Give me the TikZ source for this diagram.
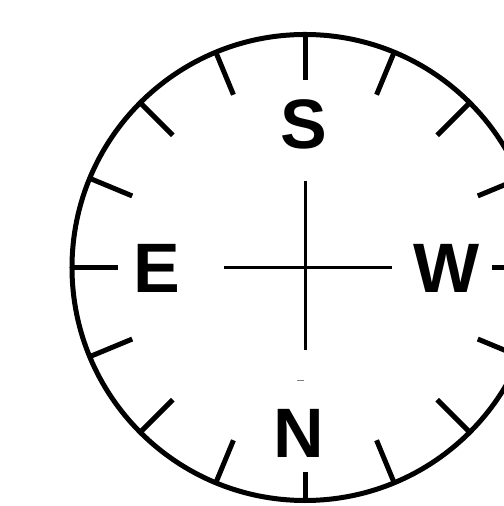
\documentclass[tikz,border=0pt]{standalone}
\usepackage{fontspec}
\setmainfont{Liberation Sans}
\usetikzlibrary{positioning}

\tikzset{
  rim/.style={line width=2.5pt},
  tickline/.style={line width=2.5pt},
  crossline/.style={line width=1.5pt},
  pointname/.style={anchor=base, inner sep=0pt,
    font=\fontsize{35}{40}\selectfont\bfseries}
}

\begin{document}
\begin{tikzpicture}[x=0.5pt, y=0.5pt]
  \useasboundingbox (-305,-238.5) rectangle (198,267.5);
  \coordinate (c) at (0,0);
  % dial
  \draw[rim] (c) circle (233);
  \foreach \a in {0,22.5,...,247.5,292.5,315,337.5}
    \draw[tickline] (\a:233) -- (\a:187);
  \draw[tickline] (270:233) -- (270:204);
  % centre cross
  \draw[crossline] (0,86) -- (0,-83);
  \draw[crossline] (-81,0) -- (87,0);
  \draw[gray, line width=0.5pt] (-8,-113.5) -- (-1,-113.5);
  % letters
  \node[pointname] (s) at (-1.5,118.5) {S};
  \node[pointname] (e) at (-148,-25.5) {E};
  \node[pointname] (w) at (142,-25.5) {W};
  \node[pointname] (n) at (-6,-190.5) {N};
\end{tikzpicture}
\end{document}
